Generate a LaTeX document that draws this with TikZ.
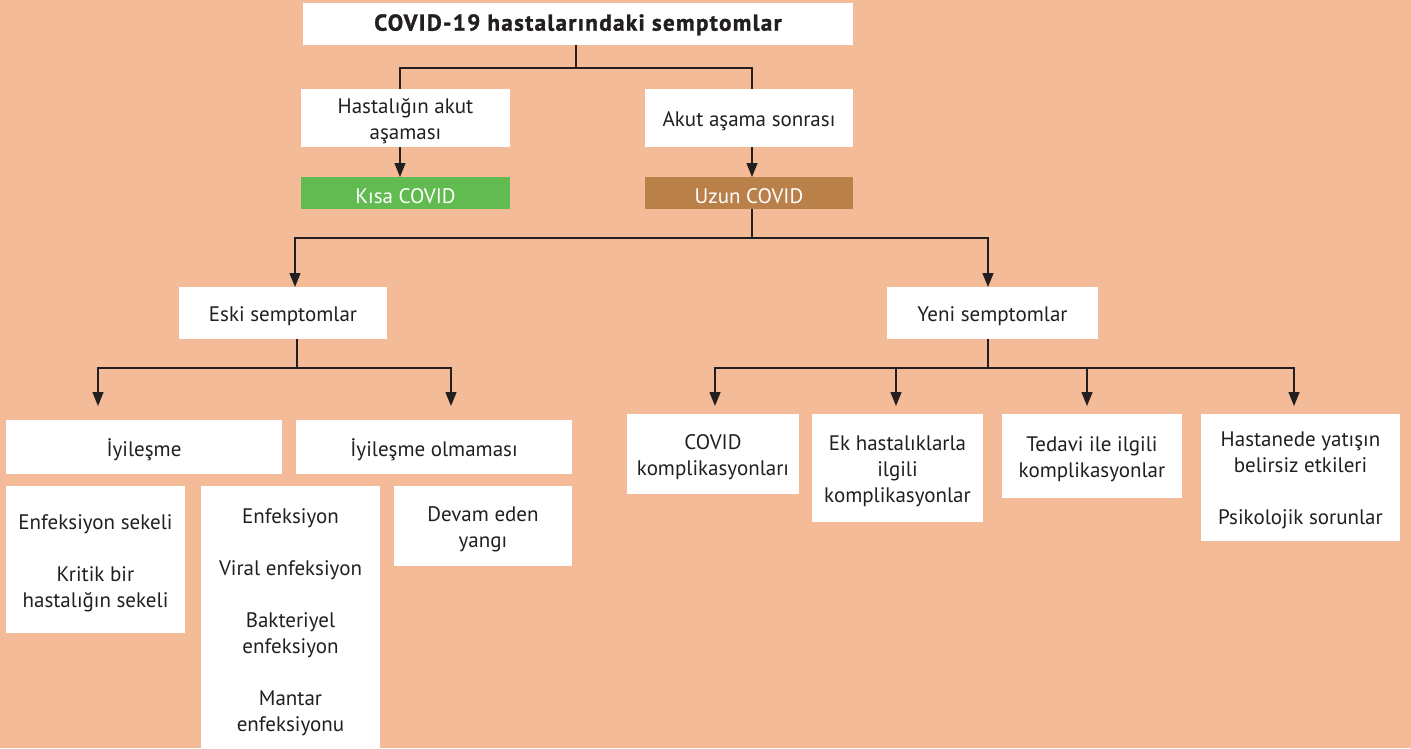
\documentclass[tikz,border=0pt]{standalone}
\usepackage{fontspec}
\setmainfont{PT Sans}
\newfontfamily\titlefont[FakeBold=1.4,LetterSpace=6]{PT Sans Bold}
\usetikzlibrary{arrows.meta}
\definecolor{bgc}{RGB}{244,187,152}
\definecolor{greenc}{RGB}{98,187,80}
\definecolor{brownc}{RGB}{185,128,74}
\definecolor{txtc}{RGB}{35,31,32}
\newcommand{\txtfont}{\fontsize{21}{26}\selectfont}
\tikzset{
  box/.style={fill=white, inner sep=0pt},
  txt/.style={inner sep=0pt, align=center, text=txtc, font=\txtfont},
  conn/.style={draw=txtc, line width=1.4pt},
  arr/.style={conn, -{Triangle[length=14pt,width=11pt]}},
}
% \bx{name}{width}{height}{center}{fill}{textcolor}{text}
\newcommand{\bx}[7]{%
  \node[box, fill=#5, minimum width=#2, minimum height=#3] (#1) at #4 {};
  \node[txt, text=#6] (#1-t) at ([yshift=-3.5pt]#1.center) {#7};}
\begin{document}
\begin{tikzpicture}[x=1pt,y=-1pt]
\fill[bgc] (0,0) rectangle (1411,748);
\useasboundingbox (0,0) rectangle (1411,748);

% nodes
\node[box, minimum width=550, minimum height=41.5] (title) at (578,23.75) {};
\node[txt, font=\fontsize{23}{26}\titlefont] (title-t) at ([yshift=-1pt]title.center) {COVID-19 hastalarındaki semptomlar};
\bx{hak}{209}{58}{(405.5,118)}{white}{txtc}{Hastalığın akut\\aşaması}
\bx{aas}{208}{58}{(749,118)}{white}{txtc}{Akut aşama sonrası}
\bx{kisa}{209}{31.5}{(405.5,192.75)}{greenc}{white}{Kısa COVID}
\bx{uzun}{208}{31.5}{(749,192.75)}{brownc}{white}{Uzun COVID}
\bx{eski}{208}{51.5}{(283,312.75)}{white}{txtc}{Eski semptomlar}
\bx{yeni}{211}{51.5}{(992.5,312.75)}{white}{txtc}{Yeni semptomlar}
\bx{iyi}{276}{53.5}{(144,446.75)}{white}{txtc}{İyileşme}
\bx{iyio}{276}{53.5}{(434,446.75)}{white}{txtc}{İyileşme olmaması}
\bx{sek}{179}{147}{(95.5,559.5)}{white}{txtc}{Enfeksiyon sekeli\\[26pt]Kritik bir\\hastalığın sekeli}
\bx{enf}{179}{266}{(290.5,619)}{white}{txtc}{Enfeksiyon\\[26pt]Viral enfeksiyon\\[26pt]Bakteriyel\\enfeksiyon\\[26pt]Mantar\\enfeksiyonu}
\bx{dev}{178}{79.5}{(483,525.75)}{white}{txtc}{Devam eden\\yangı}
\bx{c1}{172}{80}{(713,454)}{white}{txtc}{COVID\\komplikasyonları}
\bx{c2}{171}{108}{(897.5,468)}{white}{txtc}{Ek hastalıklarla\\ilgili\\komplikasyonlar}
\bx{c3}{180}{84}{(1092,456)}{white}{txtc}{Tedavi ile ilgili\\komplikasyonlar}
\bx{c4}{199}{126.5}{(1300.5,477.25)}{white}{txtc}{Hastanede yatışın\\belirsiz etkileri\\[26pt]Psikolojik sorunlar}

% arrow tip coordinates
\coordinate (tk) at (400,177);
\coordinate (tu) at (752,177);
\coordinate (te) at (295,287);
\coordinate (ty) at (988,287);
\coordinate (ti) at (98,406);
\coordinate (tio) at (451,406);
\coordinate (t1) at (715,406);
\coordinate (t2) at (896,406);
\coordinate (t3) at (1087,406);
\coordinate (t4) at (1294,406);
\coordinate (bt) at (576,44.5);
\coordinate (bu) at (752,208.5);
\coordinate (be) at (297,338.5);
\coordinate (by) at (988,338.5);

% connectors
\draw[conn] (bt) -- (576,68) -| (hak.north -| 400,0);
\draw[conn] (576,68) -| (aas.north -| 752,0);
\draw[arr] (hak.south -| 400,0) -- (tk);
\draw[arr] (aas.south -| 752,0) -- (tu);
\draw[arr] (bu) -- (752,238) -| (te);
\draw[arr] (752,238) -| (ty);
\draw[arr] (be) -- (297,368) -| (ti);
\draw[arr] (297,368) -| (tio);
\draw[arr] (by) -- (988,368) -| (t1);
\draw[arr] (988,368) -| (t2);
\draw[arr] (988,368) -| (t3);
\draw[arr] (988,368) -| (t4);
\end{tikzpicture}
\end{document}
